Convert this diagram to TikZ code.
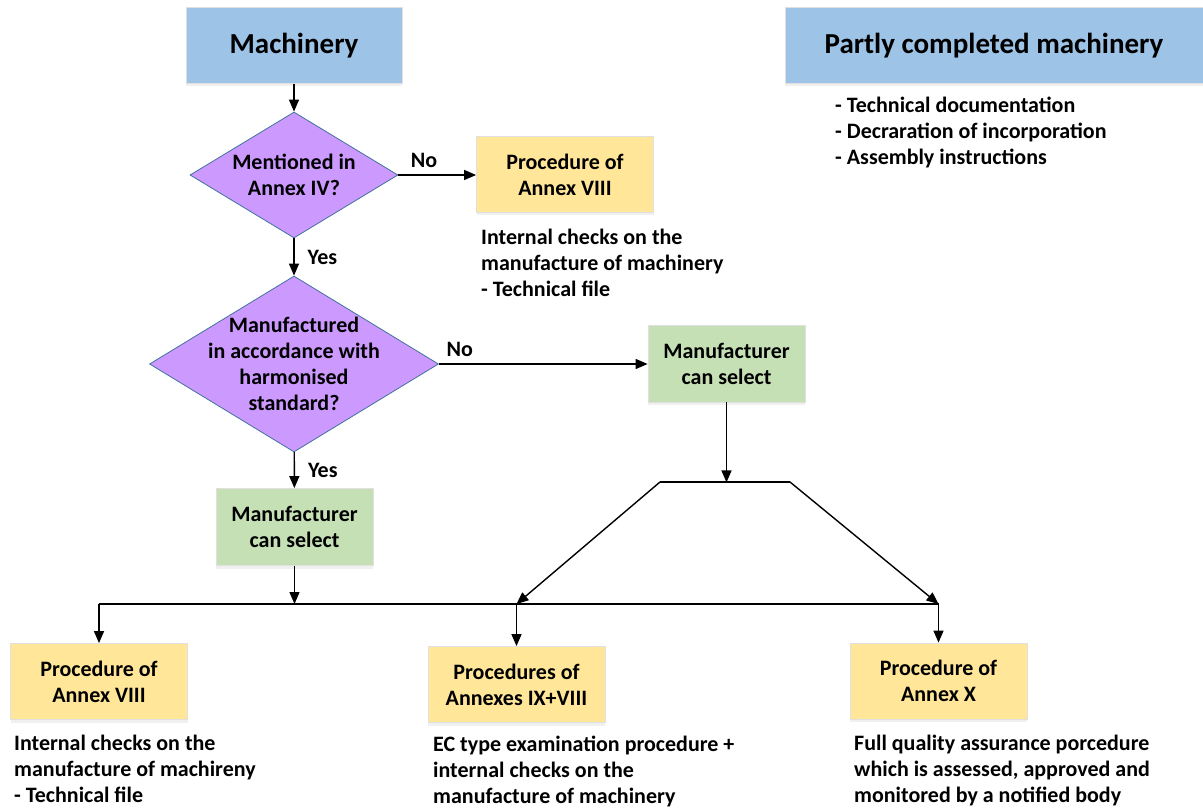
\documentclass[tikz,border=0pt]{standalone}
\usepackage{fontspec}
\setmainfont{Carlito}
\usetikzlibrary{arrows.meta,positioning,shapes.geometric,shadows}
\definecolor{headblue}{HTML}{9DC3E6}
\definecolor{askviolet}{HTML}{CC99FF}
\definecolor{askedge}{HTML}{41719C}
\definecolor{procyellow}{HTML}{FFE699}
\definecolor{selgreen}{HTML}{C5E0B4}
\tikzset{
  flow/.style={-{Triangle[length=12pt,width=10pt]},line width=1.4pt},
  plain/.style={line width=1.4pt},
  box/.style={draw=black!12,line width=0.8pt,align=center,inner sep=0pt,
    font=\fontsize{22}{26}\selectfont\bfseries,
    drop shadow={shadow xshift=0pt,shadow yshift=-3pt,opacity=0.12}},
  headbox/.style={box,fill=headblue,minimum height=76pt,
    font=\fontsize{29}{34}\selectfont\bfseries},
  procbox/.style={box,fill=procyellow,minimum width=177pt,minimum height=76pt},
  selbox/.style={box,fill=selgreen,minimum width=157pt,minimum height=77pt},
  ask/.style={diamond,draw=askedge,fill=askviolet,line width=0.8pt,inner sep=0pt},
  asktext/.style={align=center,font=\fontsize{22}{26}\selectfont\bfseries},
  labeltext/.style={align=left,inner sep=0pt,font=\fontsize{22}{26}\selectfont\bfseries},
  yesno/.style={inner sep=0pt,font=\fontsize{22}{26}\selectfont\bfseries}
}

\begin{document}
\begin{tikzpicture}[x=1pt,y=-1pt]
\useasboundingbox (0,0) rectangle (1203,810);
% headings
\node[headbox,minimum width=216pt] (mach) at (294,45.5) {Machinery};
\node[headbox,minimum width=418pt] (pcm) at (994,45.5) {Partly completed machinery};
\node[labeltext,anchor=west] (pcmlist) at (835,132)
  {- Technical documentation\\- Decraration of incorporation\\- Assembly instructions};
% first question
\node[ask,minimum width=208pt,minimum height=126pt] (ask1) at (294,175) {};
\node[asktext] (ask1t) at (ask1.center) {Mentioned in\\Annex IV?};
\node[procbox] (proc0) at (565,174.5) {Procedure of\\Annex VIII};
\node[labeltext,anchor=west] (proc0n) at (481,263)
  {Internal checks on the\\manufacture of machinery\\- Technical file};
% second question
\node[ask,minimum width=289pt,minimum height=176pt] (ask2) at (294,364) {};
\node[asktext] (ask2t) at (ask2.center)
  {Manufactured\\in accordance with\\harmonised\\standard?};
\node[selbox] (selR) at (726.5,363.5) {Manufacturer\\can select};
\node[selbox] (selL) at (294.5,527) {Manufacturer\\can select};
% procedures
\node[procbox] (procA) at (99,681.5) {Procedure of\\Annex VIII};
\node[procbox] (procB) at (516.5,684.5) {Procedures of\\Annexes IX+VIII};
\node[procbox] (procC) at (938.5,681) {Procedure of\\Annex X};
\node[labeltext,anchor=west] (procAn) at (14,769)
  {Internal checks on the\\manufacture of machireny\\- Technical file};
\node[labeltext,anchor=west] (procBn) at (433,771)
  {EC type examination procedure +\\internal checks on the\\manufacture of machinery};
\node[labeltext,anchor=west] (procCn) at (854,771)
  {Full quality assurance porcedure\\which is assessed, approved and\\monitored by a notified body};
% joints
\path (selR.south) ++(0,80) coordinate (fork);
\coordinate (forkL) at (660,482);
\coordinate (forkR) at (790,482);
\coordinate (bus) at (0,604);
% connectors
\draw[flow] (mach) -- (ask1);
\draw[flow] (ask1.east) -- node[yesno,above=7pt,pos=0.33]{No} (ask1.east -| proc0.west);
\draw[flow] (ask1) -- node[yesno,right=13pt]{Yes} (ask2);
\draw[flow] (ask2.east) -- node[yesno,above=7pt,pos=0.1]{No} (ask2.east -| selR.west);
\draw[flow] (ask2) -- node[yesno,right=13pt]{Yes} (selL);
\draw[flow] (selR.south) -- (fork);
\draw[plain] (forkL) -- (forkR);
\draw[flow] (forkL) -- (procB.north |- bus);
\draw[flow] (forkR) -- (procC.north |- bus);
\draw[flow] (selL) -- (selL |- bus);
\draw[plain] (procA.north |- bus) -- (procC.north |- bus);
\foreach \p in {procA,procB,procC}
  \draw[flow] (\p.north |- bus) -- (\p.north);
\end{tikzpicture}
\end{document}
